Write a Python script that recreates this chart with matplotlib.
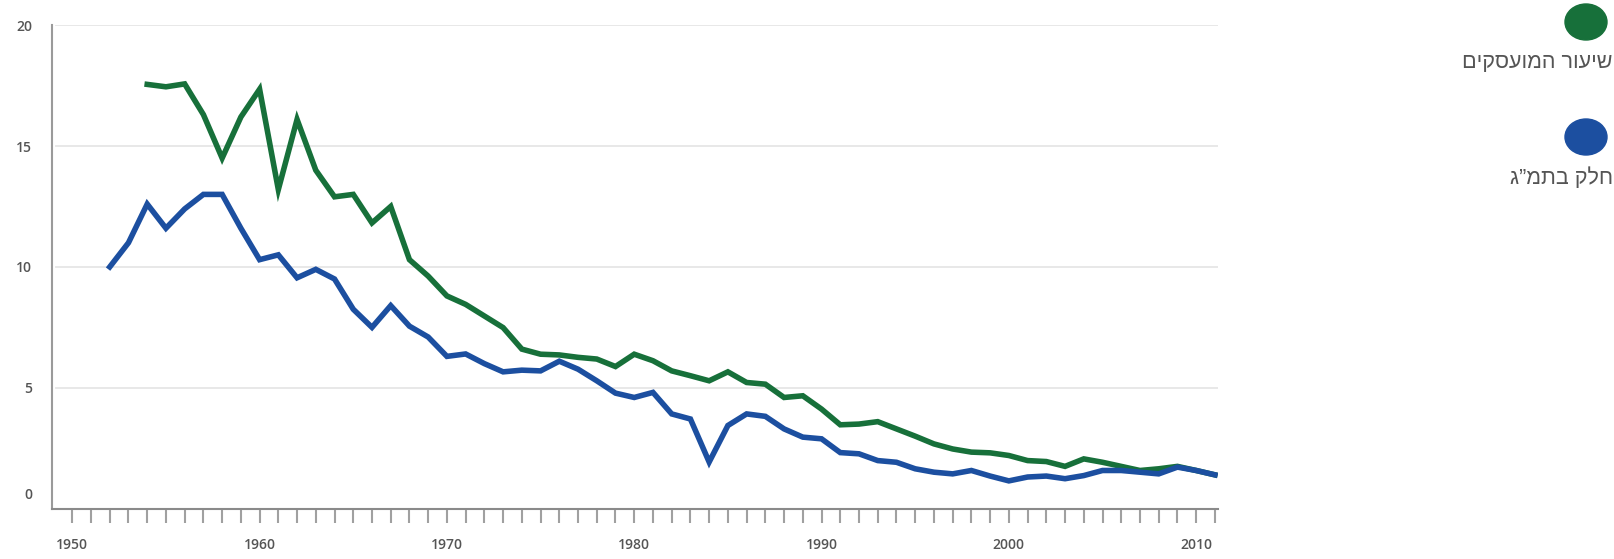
import matplotlib
matplotlib.use("Agg")
import matplotlib.pyplot as plt
from matplotlib.patches import Ellipse
from matplotlib.transforms import ScaledTranslation

# Years for each series
years_gdp = list(range(1952, 2012))
years_emp = list(range(1954, 2012))

# Share of GDP (blue)
gdp_share = [10.0, 11.0, 12.6, 11.6, 12.4, 13.0, 13.0, 11.6, 10.3, 10.5,
             9.55, 9.9, 9.5, 8.25, 7.5, 8.4, 7.55, 7.1, 6.3, 6.4,
             6.0, 5.66, 5.73, 5.7, 6.1, 5.77, 5.29, 4.78, 4.6, 4.81,
             3.92, 3.71, 1.93, 3.44, 3.92, 3.82, 3.3, 2.96, 2.89, 2.32,
             2.27, 1.99, 1.92, 1.65, 1.51, 1.44, 1.58, 1.35, 1.15, 1.31,
             1.35, 1.24, 1.37, 1.58, 1.58, 1.51, 1.44, 1.72, 1.58, 1.4]

# Share of employed (green)
emp_share = [17.55, 17.45, 17.57, 16.3, 14.5, 16.2, 17.35, 13.2, 16.1, 14.0,
             12.9, 13.0, 11.82, 12.5, 10.3, 9.62, 8.8, 8.45, 7.97, 7.49,
             6.6, 6.39, 6.36, 6.26, 6.19, 5.88, 6.39, 6.12, 5.7, 5.5,
             5.29, 5.66, 5.22, 5.15, 4.6, 4.67, 4.12, 3.47, 3.5, 3.6,
             3.3, 3.0, 2.68, 2.47, 2.34, 2.31, 2.2, 1.99, 1.95, 1.75,
             2.06, 1.92, 1.75, 1.58, 1.65, 1.75, 1.58, 1.4]

label_emp = "שיעור המועסקים"
label_gdp = "חלק בתמ”ג"

green = "#17703a"
blue = "#1c4fa0"
gray_text = "#555555"

fig = plt.figure(figsize=(16.15, 5.59), dpi=100)
ax = fig.add_axes([0.032, 0.09, 0.722, 0.865])

ax.plot(years_emp, emp_share, color=green, lw=4.0, solid_joinstyle="miter", zorder=3)
ax.plot(years_gdp, gdp_share, color=blue, lw=4.0, solid_joinstyle="miter", zorder=3)

ax.set_xlim(1948.9, 2011.15)
ax.set_ylim(0, 20)

# grid
for v in [5, 10, 15, 20]:
    ax.axhline(v, xmin=0.004, xmax=1.0, color="#e6e6e6", lw=1.3, zorder=1)

ax.spines["top"].set_visible(False)
ax.spines["right"].set_visible(False)
ax.spines["left"].set_color("#9a9a9a")
ax.spines["left"].set_linewidth(1.5)
ax.spines["bottom"].set_color("#8a8a8a")
ax.spines["bottom"].set_linewidth(1.5)

ax.set_yticks([0, 5, 10, 15, 20])
ax.set_yticklabels(["0", "5", "10", "15", "20"], family="Open Sans", fontweight="semibold")
ax.tick_params(axis="y", length=0, pad=14, labelsize=10, labelcolor=gray_text)

ax.set_xticks(range(1950, 2012))
ax.set_xticklabels([str(y) if y % 10 == 0 else "" for y in range(1950, 2012)],
                   family="Open Sans", fontweight="semibold")
ax.tick_params(axis="x", length=10, width=1.5, color="#a0a0a0", pad=11,
               labelsize=10, labelcolor=gray_text)

# the "0" label sits a bit above the axis line in the original
zero_lbl = ax.get_yticklabels()[0]
zero_lbl.set_transform(zero_lbl.get_transform() +
                       ScaledTranslation(0, 11 / 72, fig.dpi_scale_trans))

# legend on the right (the original shows the Hebrew glyphs left-to-right,
# so the strings are reversed to cancel the renderer's RTL reordering)
W, H = 1615, 559
for cy_px, ty_px, col, txt in [(22, 63, green, label_emp), (137, 178, blue, label_gdp)]:
    fig.add_artist(Ellipse((1586 / W, 1 - cy_px / H), 42 / W, 36 / H,
                           transform=fig.transFigure, color=col))
    fig.text(1613 / W, 1 - ty_px / H, txt[::-1], ha="right", va="center",
             fontsize=15.5, color=gray_text,
             family=["Liberation Sans", "DejaVu Sans"])

fig.savefig("out.png", dpi=100)
